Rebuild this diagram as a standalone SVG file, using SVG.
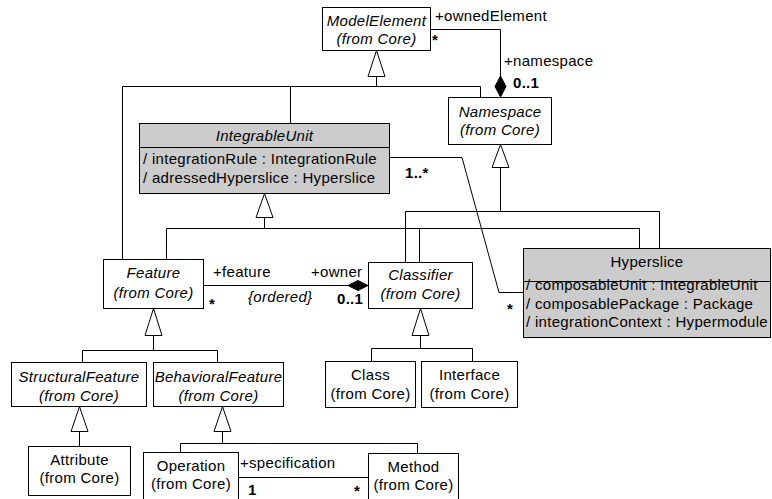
<svg xmlns="http://www.w3.org/2000/svg" width="772" height="499" viewBox="0 0 772 499">
<style>
.box{fill:#fff;stroke:#000;stroke-width:1}
.gbox{fill:#cccccc;stroke:#000;stroke-width:1}
.t{font-family:"Liberation Sans",Arial,sans-serif;font-size:15px;letter-spacing:0.3px;fill:#000}
.i{font-style:italic}
.b{font-weight:bold}
.c{text-anchor:middle}
.ln{fill:none;stroke:#000;stroke-width:1}
.tri{fill:#fff;stroke:#000;stroke-width:1}
.dia{fill:#000;stroke:#000;stroke-width:1}
</style>
<rect width="772" height="499" fill="#fff"/>
<g id="connectors">
  <g id="gen-modelelement">
    <path class="ln" d="M376.5,76.5 V86.5 M122.5,259.5 V86.5 H480.5 V97.5 M290.5,86.5 V123.5"/>
    <polygon class="tri" points="376.5,50.5 368,76.5 385,76.5"/>
  </g>
  <g id="gen-integrableunit">
    <path class="ln" d="M264.5,217.5 V228.5 M166.5,259.5 V228.5 H639.5 V248.5 M419.5,228.5 V262.5"/>
    <polygon class="tri" points="264.5,193.5 256,217.5 273,217.5"/>
  </g>
  <g id="gen-namespace">
    <path class="ln" d="M500.5,167.5 V211.5 M405.5,262.5 V211.5 H659.5 V248.5"/>
    <polygon class="tri" points="500.5,144.5 492,167.5 509,167.5"/>
  </g>
  <g id="gen-feature">
    <path class="ln" d="M153.5,335.5 V350.5 M82.5,362.5 V350.5 H217.5 V362.5"/>
    <polygon class="tri" points="153.5,308.5 145,335.5 162,335.5"/>
  </g>
  <g id="gen-classifier">
    <path class="ln" d="M420.5,335.5 V348.5 M371.5,361.5 V348.5 H472.5 V361.5"/>
    <polygon class="tri" points="420.5,308.5 412,335.5 429,335.5"/>
  </g>
  <g id="gen-structural">
    <path class="ln" d="M79.5,431.5 V446.5"/>
    <polygon class="tri" points="79.5,406.5 71,431.5 88,431.5"/>
  </g>
  <g id="gen-behavioral">
    <path class="ln" d="M222.5,431.5 V443.5 M180.5,452.5 V443.5 H417.5 V453.5"/>
    <polygon class="tri" points="222.5,406.5 214,431.5 231,431.5"/>
  </g>
  <g id="assoc-owned">
    <path class="ln" d="M430.5,29.5 H500.5 V76"/>
    <polygon class="dia" points="500.5,76 506,86.5 500.5,97 495,86.5"/>
    <text class="t" x="435" y="21">+ownedElement</text>
    <text class="t b" x="432" y="45">*</text>
    <text class="t" x="504" y="66">+namespace</text>
    <text class="t b" x="513" y="88">0..1</text>
  </g>
  <g id="assoc-feature">
    <path class="ln" d="M203.5,285.5 H348"/>
    <polygon class="dia" points="348,285.5 358,280.5 368,285.5 358,290.5"/>
    <text class="t" x="213" y="277">+feature</text>
    <text class="t" x="311" y="277">+owner</text>
    <text class="t b" x="209" y="309">*</text>
    <text class="t i" x="248" y="302">{ordered}</text>
    <text class="t b" x="337" y="304">0..1</text>
  </g>
  <g id="assoc-hyperslice">
    <path class="ln" d="M389.5,157.5 H462 L499,292.5 H523.5"/>
    <text class="t b" x="405" y="178">1..*</text>
    <text class="t b" x="507" y="314">*</text>
  </g>
  <g id="assoc-spec">
    <path class="ln" d="M238.5,477.5 H368.5"/>
    <text class="t" x="240" y="468">+specification</text>
    <text class="t b" x="248" y="495">1</text>
    <text class="t b" x="354" y="496">*</text>
  </g>
</g>
<g id="ModelElement">
  <rect class="box" x="322.5" y="7.5" width="108" height="43"/>
  <text class="t i c" x="376.5" y="26">ModelElement</text>
  <text class="t i c" x="376.5" y="44">(from Core)</text>
</g>
<g id="Namespace">
  <rect class="box" x="448.5" y="97.5" width="103" height="47"/>
  <text class="t i c" x="500" y="117">Namespace</text>
  <text class="t i c" x="500" y="135">(from Core)</text>
</g>
<g id="IntegrableUnit">
  <rect class="gbox" x="139.5" y="123.5" width="250" height="70"/>
  <path class="ln" d="M139.5,147.5 H389.5"/>
  <text class="t i c" x="264.5" y="141">IntegrableUnit</text>
  <text class="t" x="143" y="164">/ integrationRule : IntegrationRule</text>
  <text class="t" x="143" y="183">/ adressedHyperslice : Hyperslice</text>
</g>
<g id="Hyperslice">
  <rect class="gbox" x="523.5" y="248.5" width="247" height="89"/>
  <path class="ln" d="M523.5,281.5 H770.5"/>
  <text class="t c" x="647" y="267">Hyperslice</text>
  <text class="t" x="526" y="290">/ composableUnit : IntegrableUnit</text>
  <text class="t" x="526" y="308.5">/ composablePackage : Package</text>
  <text class="t" x="526" y="327">/ integrationContext : Hypermodule</text>
</g>
<g id="Feature">
  <rect class="box" x="103.5" y="259.5" width="100" height="49"/>
  <text class="t i c" x="153.5" y="278">Feature</text>
  <text class="t i c" x="153.5" y="298">(from Core)</text>
</g>
<g id="Classifier">
  <rect class="box" x="368.5" y="262.5" width="104" height="46"/>
  <text class="t i c" x="420.5" y="280">Classifier</text>
  <text class="t i c" x="420.5" y="299">(from Core)</text>
</g>
<g id="StructuralFeature">
  <rect class="box" x="11.5" y="362.5" width="135" height="44"/>
  <text class="t i c" x="79" y="382">StructuralFeature</text>
  <text class="t i c" x="79" y="401">(from Core)</text>
</g>
<g id="BehavioralFeature">
  <rect class="box" x="153.5" y="362.5" width="130" height="44"/>
  <text class="t i c" x="218.5" y="382">BehavioralFeature</text>
  <text class="t i c" x="218.5" y="401">(from Core)</text>
</g>
<g id="Class">
  <rect class="box" x="325.5" y="361.5" width="90" height="46"/>
  <text class="t c" x="370.5" y="380">Class</text>
  <text class="t c" x="370.5" y="399">(from Core)</text>
</g>
<g id="Interface">
  <rect class="box" x="421.5" y="361.5" width="96" height="46"/>
  <text class="t c" x="469.5" y="380">Interface</text>
  <text class="t c" x="469.5" y="399">(from Core)</text>
</g>
<g id="Attribute">
  <rect class="box" x="28.5" y="446.5" width="102" height="49"/>
  <text class="t c" x="79.5" y="465">Attribute</text>
  <text class="t c" x="79.5" y="483">(from Core)</text>
</g>
<g id="Operation">
  <rect class="box" x="143.5" y="452.5" width="95" height="60"/>
  <text class="t c" x="191" y="471">Operation</text>
  <text class="t c" x="191" y="489">(from Core)</text>
</g>
<g id="Method">
  <rect class="box" x="368.5" y="453.5" width="90" height="60"/>
  <text class="t c" x="413.5" y="472">Method</text>
  <text class="t c" x="413.5" y="490">(from Core)</text>
</g>
</svg>
